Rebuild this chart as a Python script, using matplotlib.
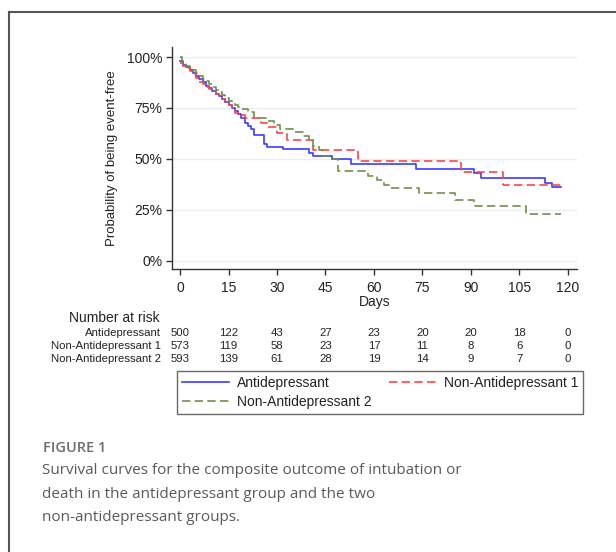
import matplotlib
matplotlib.use("Agg")
import matplotlib.pyplot as plt
from matplotlib.lines import Line2D
from matplotlib.transforms import blended_transform_factory

# ---------------------------
# Data
# ---------------------------
groups = ["Antidepressant", "Non-Antidepressant 1", "Non-Antidepressant 2"]

# Antidepressant (blue, solid)
t_anti = [0, 1, 2, 3, 4, 5, 6, 7, 8, 9, 10, 11, 12, 13, 14, 15, 16, 17, 18,
          19, 20, 21, 22, 23, 26, 27, 32, 40, 41, 47, 53, 73, 91, 93, 113,
          115, 118]
s_anti = [0.98, 0.96, 0.95, 0.935, 0.92, 0.905, 0.89, 0.875, 0.86, 0.85,
          0.835, 0.82, 0.81, 0.795, 0.78, 0.765, 0.75, 0.735, 0.72, 0.70,
          0.675, 0.66, 0.645, 0.615, 0.575, 0.56, 0.55, 0.53, 0.513, 0.498,
          0.474, 0.451, 0.431, 0.406, 0.383, 0.362, 0.362]

# Non-Antidepressant 1 (red, dashed)
t_non1 = [0, 1, 2, 3, 4, 5, 6, 7, 8, 9, 10, 11, 12, 13, 14, 15, 16, 17, 18,
          20, 25, 27, 30, 33, 41, 55, 87, 100, 118]
s_non1 = [0.97, 0.955, 0.945, 0.93, 0.915, 0.895, 0.875, 0.865, 0.855, 0.845,
          0.835, 0.82, 0.805, 0.795, 0.78, 0.765, 0.745, 0.725, 0.715, 0.70,
          0.675, 0.658, 0.625, 0.59, 0.545, 0.488, 0.434, 0.372, 0.372]

# Non-Antidepressant 2 (green, dashed)
t_non2 = [0, 0.5, 2, 3, 4, 5, 6, 7, 8, 9, 10, 11, 12, 13, 14, 15, 16, 17, 18,
          19, 21, 23, 27, 29, 31, 35, 38, 40, 41, 43, 44, 47, 49, 58, 61, 63,
          65, 74, 85, 91, 107, 118]
s_non2 = [1.0, 0.975, 0.955, 0.945, 0.935, 0.92, 0.905, 0.89, 0.88, 0.865,
          0.855, 0.84, 0.83, 0.815, 0.80, 0.785, 0.775, 0.765, 0.755, 0.745,
          0.73, 0.70, 0.685, 0.665, 0.645, 0.63, 0.61, 0.59, 0.565, 0.545,
          0.515, 0.50, 0.442, 0.415, 0.395, 0.372, 0.355, 0.33, 0.30, 0.268,
          0.229, 0.229]

risk_days = [0, 15, 30, 45, 60, 75, 90, 105, 120]
risk_anti = [500, 122, 43, 27, 23, 20, 20, 18, 0]
risk_non1 = [573, 119, 58, 23, 17, 11, 8, 6, 0]
risk_non2 = [593, 139, 61, 28, 19, 14, 9, 7, 0]

y_ticks = [0, 0.25, 0.5, 0.75, 1.0]
y_ticklabels = ["0%", "25%", "50%", "75%", "100%"]

caption_head = "FIGURE 1"
caption_lines = [
    "Survival curves for the composite outcome of intubation or",
    "death in the antidepressant group and the two",
    "non-antidepressant groups.",
]

# ---------------------------
# Figure
# ---------------------------
W, H = 616, 552
plt.rcParams["font.family"] = ["Liberation Sans", "DejaVu Sans"]
fig = plt.figure(figsize=(W / 100, H / 100), dpi=100)

def fx(px):
    return px / W

def fy(py):
    return 1 - py / H

ax = fig.add_axes([fx(171.7), fy(269), fx(577) - fx(171.7), fy(46.7) - fy(269)])

line_anti, = ax.step(t_anti, s_anti, where="post", color="#3b3bff", lw=1.2)
line_non1, = ax.step(t_non1, s_non1, where="post", color="#ff4444", lw=1.2,
                     dashes=(5, 2.6))
line_non2, = ax.step(t_non2, s_non2, where="post", color="#6f8f4a", lw=1.2,
                     dashes=(5, 2.6))

ax.set_xlim(-2.57, 122.8)
ax.set_ylim(-0.041, 1.0506)
ax.set_xticks(risk_days)
ax.set_yticks(y_ticks)
ax.set_yticklabels(y_ticklabels)
ax.grid(axis="y", color="#e9eff0", lw=1)
ax.set_axisbelow(True)
for side in ["top", "right"]:
    ax.spines[side].set_visible(False)
for side in ["left", "bottom"]:
    ax.spines[side].set_color("#333333")
    ax.spines[side].set_linewidth(1)
ax.tick_params(axis="both", direction="out", length=4.3, width=1,
               color="#333333", labelsize=10, labelcolor="#222222")
ax.tick_params(axis="x", pad=4.5)
ax.tick_params(axis="y", pad=2.5)
ax.set_xlabel("Days", fontsize=10, labelpad=0, color="#222222")
ax.set_ylabel("Probability of being event-free", fontsize=9.5,
              color="#222222", labelpad=6)

# Number at risk table
tr = blended_transform_factory(ax.transData, fig.transFigure)
fig.text(fx(114), fy(318.5), "Number at risk", fontsize=10, ha="center",
         va="center", color="#222222")
for row, (name, counts) in enumerate(zip(groups, [risk_anti, risk_non1, risk_non2])):
    yy = fy(332.7 + 13 * row)
    fig.text(fx(161), yy, name, fontsize=8.2, ha="right", va="center",
             color="#222222")
    for d, n in zip(risk_days, counts):
        ax.text(d, yy, str(n), transform=tr, fontsize=8.2, ha="center",
                va="center", color="#222222")

# Legend
leg = fig.legend([line_anti, line_non2, line_non1],
                 [groups[0], groups[2], groups[1]],
                 ncol=2, mode="expand",
                 bbox_to_anchor=(fx(177), fy(414), fx(583) - fx(177), fy(370) - fy(414)),
                 loc="lower left", fontsize=10, frameon=True, fancybox=False,
                 edgecolor="#444444", handlelength=3.4, borderaxespad=0,
                 borderpad=0.35, labelspacing=0.35, handletextpad=0.55,
                 columnspacing=1.0)
leg.get_frame().set_linewidth(1)
for t in leg.get_texts():
    t.set_color("#222222")

# Caption
fig.text(fx(43), fy(448), caption_head, fontsize=10.5, fontweight="semibold",
         color="#6d6d6d", va="center", family=["Open Sans", "DejaVu Sans"])
for i, line in enumerate(caption_lines):
    fig.text(fx(42), fy(470.5 + 23.5 * i), line, fontsize=11, color="#5a5a5a",
             va="center", family=["Open Sans", "DejaVu Sans"])

# Outer frame (top and left edges only)
fig.add_artist(Line2D([fx(9), 1], [fy(12), fy(12)], transform=fig.transFigure,
                      color="#555555", lw=1.5))
fig.add_artist(Line2D([fx(9), fx(9)], [fy(12), 0], transform=fig.transFigure,
                      color="#555555", lw=1.5))

fig.savefig("out.png", dpi=100)
